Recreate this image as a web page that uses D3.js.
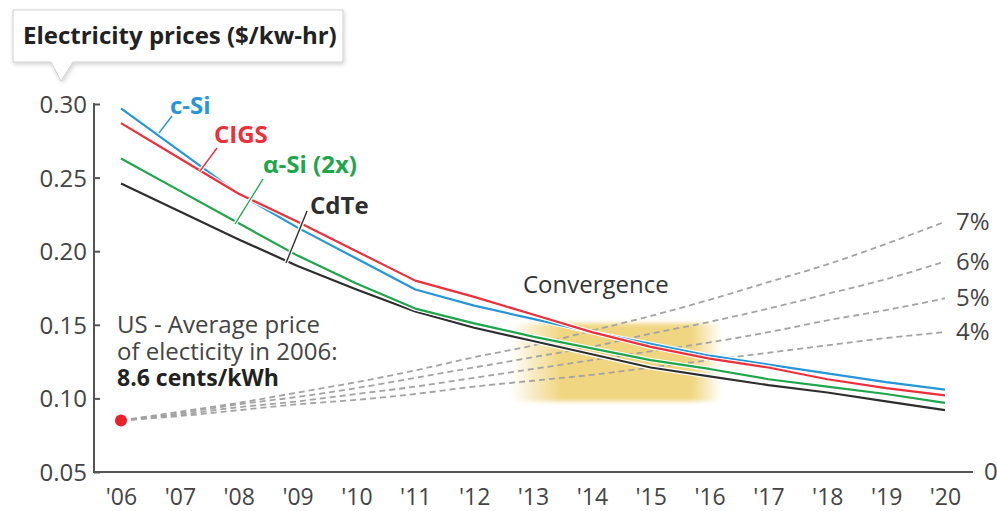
<!DOCTYPE html>
<html><head><meta charset="utf-8">
<script src="https://cdn.jsdelivr.net/npm/d3@7"></script>
<style>
html,body{margin:0;padding:0;background:#fff;}
svg{display:block;font-family:"Open Sans",sans-serif;}
</style></head>
<body>
<svg id="chart" width="997" height="511"></svg>
<script>
// ---- data ----
const years = [2006,2007,2008,2009,2010,2011,2012,2013,2014,2015,2016,2017,2018,2019,2020];
const yearLabels = ["'06","'07","'08","'09","'10","'11","'12","'13","'14","'15","'16","'17","'18","'19","'20"];
const cSi   = [0.297,0.268,0.239,0.216,0.195,0.174,0.163,0.154,0.145,0.137,0.129,0.123,0.117,0.111,0.106];
const cigs  = [0.287,0.263,0.239,0.220,0.200,0.180,0.169,0.157,0.145,0.135,0.127,0.121,0.113,0.107,0.102];
const aSi   = [0.263,0.241,0.219,0.197,0.178,0.161,0.151,0.142,0.134,0.126,0.120,0.113,0.108,0.103,0.097];
const cdTe  = [0.246,0.227,0.208,0.190,0.174,0.159,0.148,0.139,0.130,0.121,0.115,0.109,0.104,0.098,0.092];
const yTicks = [0.05,0.10,0.15,0.20,0.25,0.30];
const yTickLabels = ["0.05","0.10","0.15","0.20","0.25","0.30"];
const startPrice = 0.085;           // US average 2006 (red dot)
const growthLabels = ["7%","6%","5%","4%"];
const growth7 = [0.085,0.091,0.097,0.104,0.111,0.119,0.128,0.136,0.146,0.156,0.167,0.179,0.191,0.205,0.220];
const growth6 = [0.085,0.090,0.096,0.101,0.107,0.114,0.121,0.128,0.135,0.144,0.152,0.161,0.171,0.181,0.193];
const growth5 = [0.085,0.089,0.094,0.098,0.103,0.108,0.114,0.120,0.126,0.132,0.138,0.145,0.153,0.160,0.168];
const growth4 = [0.085,0.088,0.092,0.096,0.099,0.103,0.108,0.112,0.116,0.121,0.126,0.131,0.136,0.141,0.145];
const convergenceX = [2012.6, 2016.2];
const convergenceY = [0.098, 0.151];

// ---- layout ----
const svg = d3.select("#chart");
const x = d3.scaleLinear().domain([2006,2020]).range([121,945]);
const y = d3.scaleLinear().domain([0.05,0.30]).range([472,104]);
const axisColor = "#555", textColor = "#444";
const defs = svg.append("defs");

// convergence zone
const grad = defs.append("linearGradient").attr("id","conv").attr("x1","0").attr("x2","1").attr("y1","0").attr("y2","0");
[[0,0],[0.24,1],[0.86,1],[1,0]].forEach(([o,a])=>grad.append("stop").attr("offset",o).attr("stop-color","#f1d681").attr("stop-opacity",a));
defs.append("filter").attr("id","soft").attr("x","-0.1").attr("y","-0.2").attr("width","1.2").attr("height","1.4")
  .append("feGaussianBlur").attr("stdDeviation",2);
svg.append("rect")
  .attr("x",x(convergenceX[0])).attr("width",x(convergenceX[1])-x(convergenceX[0]))
  .attr("y",y(convergenceY[1])).attr("height",y(convergenceY[0])-y(convergenceY[1]))
  .attr("fill","url(#conv)").attr("filter","url(#soft)");

// growth dashed curves
const gLine = d3.line().x((d,i)=>x(years[i])).y(d=>y(d)).curve(d3.curveMonotoneX);
[growth7,growth6,growth5,growth4].forEach((g,i)=>{
  svg.append("path").attr("d",gLine(g)).attr("fill","none")
    .attr("stroke","#a3a3a3").attr("stroke-width",1.8).attr("stroke-dasharray","6,4");
  svg.append("text").attr("x",956).attr("y",y(g[g.length-1])+8).attr("fill",textColor)
    .attr("font-size",24).text(growthLabels[i]);
});

// axes
const yAxis = svg.append("g").attr("transform","translate(94,0)")
  .call(d3.axisLeft(y).tickValues(yTicks).tickFormat((d,i)=>yTickLabels[i]).tickSizeInner(-6).tickSizeOuter(0).tickPadding(7));
yAxis.select(".domain").remove();
yAxis.selectAll(".tick line").attr("stroke",axisColor).attr("stroke-width",2);
yAxis.selectAll(".tick text").attr("fill",textColor).attr("font-size",24).attr("font-family","Open Sans").attr("dy","0.35em");
svg.append("line").attr("x1",94).attr("x2",94).attr("y1",y(0.30)-1).attr("y2",y(0.05)+1)
  .attr("stroke",axisColor).attr("stroke-width",2);
svg.append("line").attr("x1",93).attr("x2",973).attr("y1",y(0.05)).attr("y2",y(0.05))
  .attr("stroke",axisColor).attr("stroke-width",2);
svg.append("text").attr("x",984).attr("y",y(0.05)+8).attr("fill",textColor).attr("font-size",24).text("0");

const xAxis = svg.append("g").attr("transform",`translate(0,${y(0.05)})`)
  .call(d3.axisBottom(x).tickValues(years).tickFormat((d,i)=>yearLabels[i]).tickSize(0).tickPadding(17));
xAxis.select(".domain").remove();
xAxis.selectAll(".tick text").attr("fill",textColor).attr("font-size",23).attr("font-family","Open Sans");

// series
const line = d3.line().x((d,i)=>x(years[i])).y(d=>y(d));
const series = [
  {v:cdTe, c:"#2e2e2e"},
  {v:aSi,  c:"#1ea64b"},
  {v:cSi,  c:"#2596d8"},
  {v:cigs, c:"#ec2f3b"}
];
series.forEach(s=>{
  svg.append("path").attr("d",line(s.v)).attr("fill","none").attr("stroke","#fff").attr("stroke-width",4.5).attr("stroke-linejoin","round");
  svg.append("path").attr("d",line(s.v)).attr("fill","none").attr("stroke",s.c).attr("stroke-width",2.2).attr("stroke-linejoin","round");
});

// red dot
svg.append("circle").attr("cx",x(2006)).attr("cy",y(startPrice)).attr("r",6).attr("fill","#e8212b");

// series labels with leaders
const labels = [
  {t:"c-Si",     c:"#2596d8", tx:170, ty:114, l:[[172,116],[159,133]]},
  {t:"CIGS",     c:"#ec2f3b", tx:214, ty:143, l:[[217,148],[200,171]]},
  {t:"\u03b1-Si (2x)", c:"#1ea64b", tx:263, ty:173, l:[[263,179],[235,224]]},
  {t:"CdTe",     c:"#2e2e2e", tx:310, ty:214, l:[[307,211],[286,263]]}
];
labels.forEach(d=>{
  svg.append("line").attr("x1",d.l[0][0]).attr("y1",d.l[0][1]).attr("x2",d.l[1][0]).attr("y2",d.l[1][1])
    .attr("stroke","#fff").attr("stroke-width",4);
  svg.append("line").attr("x1",d.l[0][0]).attr("y1",d.l[0][1]).attr("x2",d.l[1][0]).attr("y2",d.l[1][1])
    .attr("stroke",d.c).attr("stroke-width",1.4);
  svg.append("text").attr("x",d.tx).attr("y",d.ty).attr("fill",d.c).attr("font-size",24).attr("font-weight","bold").text(d.t);
});

// convergence label
svg.append("text").attr("x",523).attr("y",293).attr("fill","#333").attr("font-size",24).text("Convergence");

// US note
const note = svg.append("text").attr("x",117).attr("fill",textColor).attr("font-size",24);
note.append("tspan").attr("x",117).attr("y",333).text("US - Average price");
note.append("tspan").attr("x",117).attr("y",360).text("of electicity in 2006:");
note.append("tspan").attr("x",117).attr("y",386).attr("font-weight","bold").attr("font-size",23).attr("fill","#222").text("8.6 cents/kWh");

// title callout
const sh = defs.append("filter").attr("id","shadow").attr("x","-0.1").attr("y","-0.2").attr("width","1.3").attr("height","1.6");
sh.append("feDropShadow").attr("dx",1).attr("dy",2).attr("stdDeviation",2).attr("flood-color","#000").attr("flood-opacity",0.18);
const tb = svg.append("g").attr("filter","url(#shadow)");
tb.append("path").attr("d","M13,10 H343 V62 H73 L61,81 L51,62 H13 Z")
  .attr("fill","#fff").attr("stroke","#cfcfcf").attr("stroke-width",1);
svg.append("text").attr("x",23).attr("y",44).attr("fill","#222").attr("font-size",24).attr("font-weight","bold")
  .text("Electricity prices ($/kw-hr)");
</script>
</body></html>
